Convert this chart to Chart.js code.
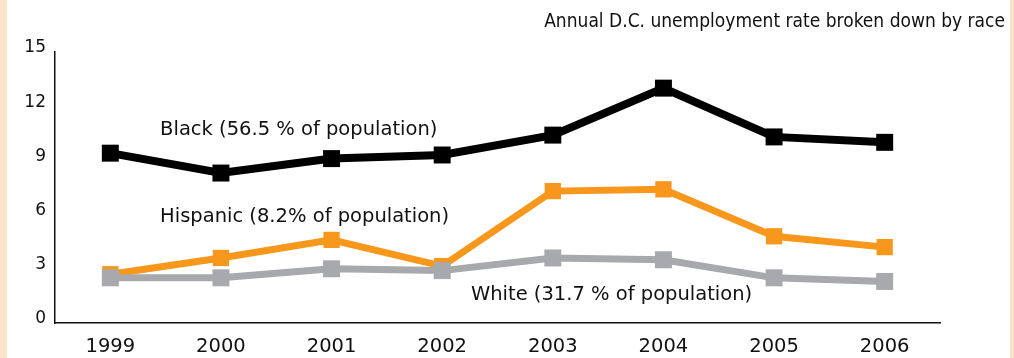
<!DOCTYPE html>
<html lang="en">
<head>
  <meta charset="UTF-8" />
  <title>Annual D.C. unemployment rate broken down by race</title>
  <script src="https://cdn.jsdelivr.net/npm/chart.js"></script>
  <style>
    html, body { margin: 0; padding: 0; background: #fde3c7; }
    .panel { position: absolute; left: 7px; top: 0; width: 1003px; height: 358px; background: #fff; }
    canvas { display: block; }
  </style>
</head>
<body>

<div class="panel">
  <canvas id="chart" width="1003" height="358"></canvas>
</div>

<script>
// data
const years = ["1999", "2000", "2001", "2002", "2003", "2004", "2005", "2006"];
const black = [9.4, 8.3, 9.1, 9.3, 10.4, 13.0, 10.3, 10.0];
const hispanic = [2.7, 3.6, 4.6, 3.15, 7.3, 7.4, 4.8, 4.2];
const white = [2.5, 2.5, 3.0, 2.9, 3.6, 3.5, 2.5, 2.3];
const yTicks = [0, 3, 6, 9, 12, 15];

const titleText = "Annual D.C. unemployment rate broken down by race";
const seriesNames = [
  "Black (56.5 % of population)",
  "Hispanic (8.2% of population)",
  "White (31.7 % of population)"
];

const FONT = "'DejaVu Sans', sans-serif";

// inline series labels, anchored in data space (category index, value)
const inlineLabels = [
  { text: seriesNames[0], x: 0.45, y: 10.7 },
  { text: seriesNames[1], x: 0.45, y: 5.85 },
  { text: seriesNames[2], x: 3.26, y: 1.55 }
];

const textPlugin = {
  id: "textPlugin",
  afterDatasetsDraw(chart) {
    const ctx = chart.ctx;
    const xs = chart.scales.x, ys = chart.scales.y;
    ctx.save();
    ctx.fillStyle = "#111";
    ctx.textBaseline = "middle";

    // title, right-aligned near the right edge
    ctx.font = "19px 'DejaVu Sans Condensed', 'DejaVu Sans', sans-serif";
    ctx.textAlign = "right";
    ctx.fillText(titleText, chart.width - 5, 22);

    ctx.font = "19.5px " + FONT;
    ctx.textAlign = "left";
    inlineLabels.forEach(l => {
      ctx.fillText(l.text, xs.getPixelForValue(l.x), ys.getPixelForValue(l.y));
    });
    ctx.restore();
  }
};

new Chart(document.getElementById("chart"), {
  type: "line",
  data: {
    labels: years,
    datasets: [
      { label: seriesNames[2], data: white, borderColor: "#a7a9ac", backgroundColor: "#a7a9ac", borderWidth: 7, pointRadius: 12, pointBorderWidth: 0, order: 0 },
      { label: seriesNames[1], data: hispanic, borderColor: "#f7981d", backgroundColor: "#f7981d", borderWidth: 7, pointRadius: 11.5, pointBorderWidth: 0, order: 1 },
      { label: seriesNames[0], data: black, borderColor: "#000", backgroundColor: "#000", borderWidth: 8, pointRadius: 12, pointBorderWidth: 0, order: 2 }
    ]
  },
  options: {
    responsive: false,
    animation: false,
    elements: {
      line: { tension: 0, fill: false },
      point: { pointStyle: "rect", borderWidth: 0, hoverRadius: 12, hoverBorderWidth: 0 }
    },
    layout: { padding: { left: 0, right: 70, top: 52, bottom: 0 } },
    plugins: {
      legend: { display: false },
      tooltip: { enabled: false },
      title: { display: false }
    },
    scales: {
      x: {
        offset: true,
        grid: { display: false, drawTicks: false },
        border: { display: true, color: "#111", width: 1.5 },
        ticks: { color: "#111", font: { family: FONT, size: 19.5 }, padding: 12, autoSkip: false, maxRotation: 0 },
        afterFit: s => { s.height = 35; }
      },
      y: {
        min: 0,
        max: 15,
        afterBuildTicks: s => { s.ticks = yTicks.map(v => ({ value: v })); },
        grid: { display: false, drawTicks: false },
        border: { display: true, color: "#111", width: 1.5 },
        ticks: { color: "#111", font: { family: FONT, size: 17 }, padding: 9, labelOffset: -4 },
        afterFit: s => { s.width = 48; }
      }
    }
  },
  plugins: [textPlugin]
});
</script>

</body>
</html>
